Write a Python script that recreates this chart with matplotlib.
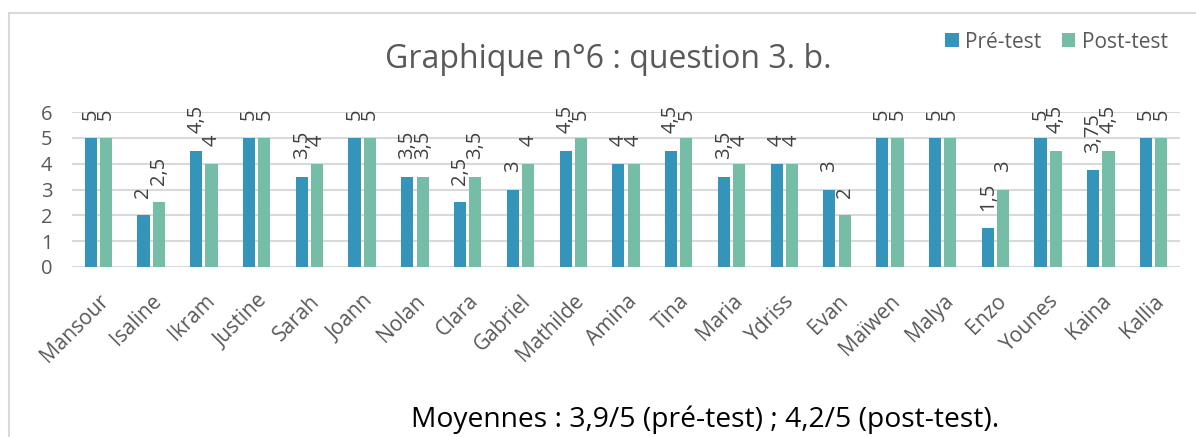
import numpy as np
import matplotlib
matplotlib.use("Agg")
import matplotlib.pyplot as plt
from matplotlib.lines import Line2D
from matplotlib.transforms import ScaledTranslation

# données du graphique n°6
eleves = ['Mansour', 'Isaline', 'Ikram', 'Justine', 'Sarah', 'Joann', 'Nolan',
          'Clara', 'Gabriel', 'Mathilde', 'Amina', 'Tina', 'Maria', 'Ydriss',
          'Evan', 'Maïwen', 'Malya', 'Enzo', 'Younes', 'Kaina', 'Kallia']
pre_test = [5, 2, 4.5, 5, 3.5, 5, 3.5, 2.5, 3, 4.5, 4, 4.5, 3.5, 4, 3, 5, 5, 1.5, 5, 3.75, 5]
post_test = [5, 2.5, 4, 5, 4, 5, 3.5, 3.5, 4, 5, 4, 5, 4, 4, 2, 5, 5, 3, 4.5, 4.5, 5]
y_ticks = [0, 1, 2, 3, 4, 5, 6]

BLEU = '#3494ba'
VERT = '#75bda7'
GRIS_TXT = '#595959'
GRIS_LIGNE = '#d9d9d9'

plt.rcParams['font.family'] = ['Open Sans', 'DejaVu Sans']

W, H = 1196, 437
fig = plt.figure(figsize=(W / 100, H / 100), dpi=100)
ax = fig.add_axes([72 / W, 1 - 267 / H, (1180 - 72) / W, (267 - 112) / H])

x = np.arange(len(eleves))
w = 0.23
ecart = 0.03
b1 = ax.bar(x - w / 2 - ecart, pre_test, width=w, color=BLEU, label='Pré-test', zorder=3)
b2 = ax.bar(x + w / 2 + ecart, post_test, width=w, color=VERT, label='Post-test', zorder=3)


def fmt(v):
    return ('%g' % v).replace('.', ',')


# étiquettes de valeurs verticales (elles se chevauchent aussi dans l'original)
for bars, vals in ((b1, pre_test), (b2, post_test)):
    for r, v in zip(bars, vals):
        ax.annotate(fmt(v), (r.get_x() + r.get_width() / 2, v),
                    xytext=(0, 12.5), textcoords='offset points',
                    rotation=90, ha='center', va='bottom',
                    fontsize=14.5, color='#404040', annotation_clip=False)

ax.set_xlim(-0.5, len(eleves) - 0.5)
ax.set_ylim(0, 6)
ax.set_yticks(y_ticks)
ax.set_yticklabels([str(t) for t in y_ticks], fontsize=14.5, color=GRIS_TXT)
ax.set_xticks(x)
ax.set_xticklabels(eleves, rotation=45, ha='right', va='top',
                   rotation_mode='anchor', fontsize=15, color=GRIS_TXT)
decal = ScaledTranslation(-2 / 100, 0, fig.dpi_scale_trans)
for lab in ax.get_xticklabels():
    lab.set_transform(lab.get_transform() + decal)
ax.tick_params(length=0)
ax.tick_params(axis='x', pad=17)
ax.tick_params(axis='y', pad=14)
ax.grid(axis='y', color=GRIS_LIGNE, linewidth=1.5, zorder=0)
for s in ax.spines.values():
    s.set_visible(False)

fig.text(608 / W, 1 - 60 / H, 'Graphique n°6 : question 3. b.', ha='center', va='center',
         fontsize=23, color=GRIS_TXT)
fig.legend(handles=[b1, b2], loc='center right', bbox_to_anchor=(1176 / W, 1 - 42 / H),
           ncol=2, frameon=False, fontsize=15, handlelength=0.65, handleheight=0.65,
           handletextpad=0.3, columnspacing=1.0, labelcolor=GRIS_TXT, borderaxespad=0)
fig.text(705 / W, 1 - 420 / H, 'Moyennes : 3,9/5 (pré-test) ; 4,2/5 (post-test).',
         ha='center', va='center', fontsize=20.3, color='#000000')

# cadre gris
fig.add_artist(Line2D([9 / W, 1], [1 - 13 / H, 1 - 13 / H], color=GRIS_LIGNE, linewidth=1.5))
fig.add_artist(Line2D([9 / W, 9 / W], [0, 1 - 13 / H], color=GRIS_LIGNE, linewidth=1.5))

fig.savefig('out.png', dpi=100)
